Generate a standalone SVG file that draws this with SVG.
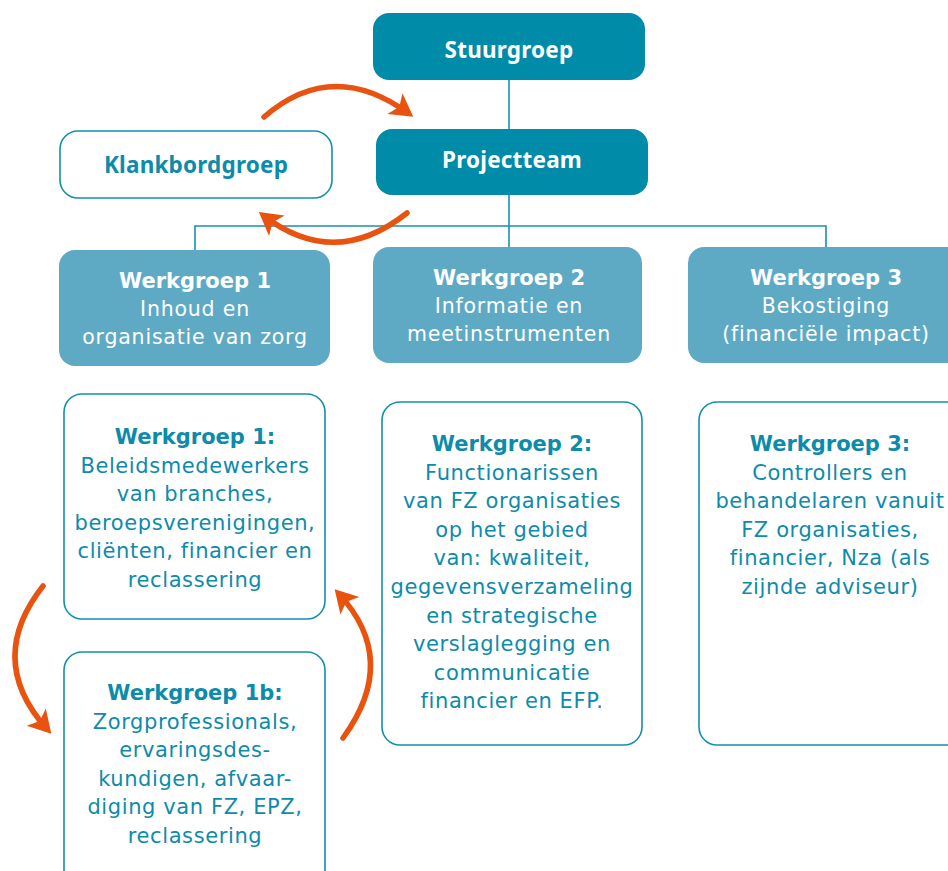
<svg xmlns="http://www.w3.org/2000/svg" width="948" height="871" viewBox="0 0 948 871">
<defs>
<style>
.dark{fill:#008ba9;}
.light{fill:#5eaac5;}
.outline{fill:#ffffff;stroke:#138fad;stroke-width:1.6;}
.conn{stroke:#1a90ad;stroke-width:1.6;fill:none;}
.arc{stroke:#e8530f;stroke-width:5.5;fill:none;stroke-linecap:round;}
text{font-family:"DejaVu Sans","Noto Sans",sans-serif;text-anchor:middle;}
.wt{fill:#ffffff;font-size:20.5px;letter-spacing:0.8px;}
.tt{fill:#0d8bab;font-size:21px;letter-spacing:0.6px;}
.b{font-weight:bold;letter-spacing:0;}
.wt .b{font-size:21px;}
.hd{font-family:"Noto Sans","DejaVu Sans",sans-serif;font-size:22.5px;letter-spacing:0.2px;}
</style>
<marker id="ah" markerUnits="userSpaceOnUse" markerWidth="30" markerHeight="30" viewBox="-2 -14 26 28" refX="15" refY="0" orient="auto">
<path d="M0,-12 L21,0 L0,12 L5,0 Z" fill="#e8530f"/>
</marker>
</defs>
<rect width="948" height="871" fill="#ffffff"/>
<g id="connectors">
<line class="conn" x1="509" y1="80" x2="509" y2="129"/>
<line class="conn" x1="509" y1="195" x2="509" y2="247"/>
<polyline class="conn" points="195,250 195,226 826,226 826,247"/>
<path class="arc" d="M264,117 Q332,58 408,113" marker-end="url(#ah)"/>
<path class="arc" d="M407,213 Q335,270 264,216" marker-end="url(#ah)"/>
<path class="arc" d="M43,586 Q-15,660 47,729" marker-end="url(#ah)"/>
<path class="arc" d="M343,738 Q400,660 339,594" marker-end="url(#ah)"/>
</g>
<g id="stuurgroep">
<rect class="dark" x="373" y="13" width="272" height="67" rx="16"/>
<text class="wt b hd" x="509" y="58">Stuurgroep</text>
</g>
<g id="projectteam">
<rect class="dark" x="376" y="129" width="272" height="66" rx="16"/>
<text class="wt b hd" x="512" y="168">Projectteam</text>
</g>
<g id="klankbordgroep">
<rect class="outline" x="60" y="131" width="272" height="67" rx="18"/>
<text class="tt b hd" x="196" y="173">Klankbordgroep</text>
</g>
<g id="werkgroep1">
<rect class="light" x="59" y="250" width="271" height="116" rx="16"/>
<text class="wt" x="195" y="288"><tspan class="b">Werkgroep 1</tspan><tspan x="195" dy="28">Inhoud en</tspan><tspan x="195" dy="28">organisatie van zorg</tspan></text>
</g>
<g id="werkgroep2">
<rect class="light" x="373" y="247" width="269" height="116" rx="16"/>
<text class="wt" x="509" y="285"><tspan class="b">Werkgroep 2</tspan><tspan x="509" dy="28">Informatie en</tspan><tspan x="509" dy="28">meetinstrumenten</tspan></text>
</g>
<g id="werkgroep3">
<rect class="light" x="688" y="247" width="276" height="116" rx="16"/>
<text class="wt" x="826" y="285"><tspan class="b">Werkgroep 3</tspan><tspan x="826" dy="28">Bekostiging</tspan><tspan x="826" dy="28">(financiële impact)</tspan></text>
</g>
<g id="werkgroep1-detail">
<rect class="outline" x="64" y="394" width="261" height="225" rx="18"/>
<text class="tt" x="195" y="444"><tspan class="b">Werkgroep 1:</tspan><tspan x="195" dy="28.5">Beleidsmedewerkers</tspan><tspan x="195" dy="28.5">van branches,</tspan><tspan x="195" dy="28.5">beroepsverenigingen,</tspan><tspan x="195" dy="28.5">cliënten, financier en</tspan><tspan x="195" dy="28.5">reclassering</tspan></text>
</g>
<g id="werkgroep1b-detail">
<rect class="outline" x="64" y="652" width="261" height="240" rx="18"/>
<text class="tt" x="195" y="700"><tspan class="b">Werkgroep 1b:</tspan><tspan x="195" dy="28.5">Zorgprofessionals,</tspan><tspan x="195" dy="28.5">ervaringsdes-</tspan><tspan x="195" dy="28.5">kundigen, afvaar-</tspan><tspan x="195" dy="28.5">diging van FZ, EPZ,</tspan><tspan x="195" dy="28.5">reclassering</tspan></text>
</g>
<g id="werkgroep2-detail">
<rect class="outline" x="382" y="402" width="260" height="343" rx="18"/>
<text class="tt" x="512" y="451"><tspan class="b">Werkgroep 2:</tspan><tspan x="512" dy="28.6">Functionarissen</tspan><tspan x="512" dy="28.6">van FZ organisaties</tspan><tspan x="512" dy="28.6">op het gebied</tspan><tspan x="512" dy="28.6">van: kwaliteit,</tspan><tspan x="512" dy="28.6">gegevensverzameling</tspan><tspan x="512" dy="28.6">en strategische</tspan><tspan x="512" dy="28.6">verslaglegging en</tspan><tspan x="512" dy="28.6">communicatie</tspan><tspan x="512" dy="28.6">financier en EFP.</tspan></text>
</g>
<g id="werkgroep3-detail">
<rect class="outline" x="699" y="402" width="270" height="343" rx="18"/>
<text class="tt" x="830" y="451"><tspan class="b">Werkgroep 3:</tspan><tspan x="830" dy="28.5">Controllers en</tspan><tspan x="830" dy="28.5">behandelaren vanuit</tspan><tspan x="830" dy="28.5">FZ organisaties,</tspan><tspan x="830" dy="28.5">financier, Nza (als</tspan><tspan x="830" dy="28.5">zijnde adviseur)</tspan></text>
</g>
</svg>
